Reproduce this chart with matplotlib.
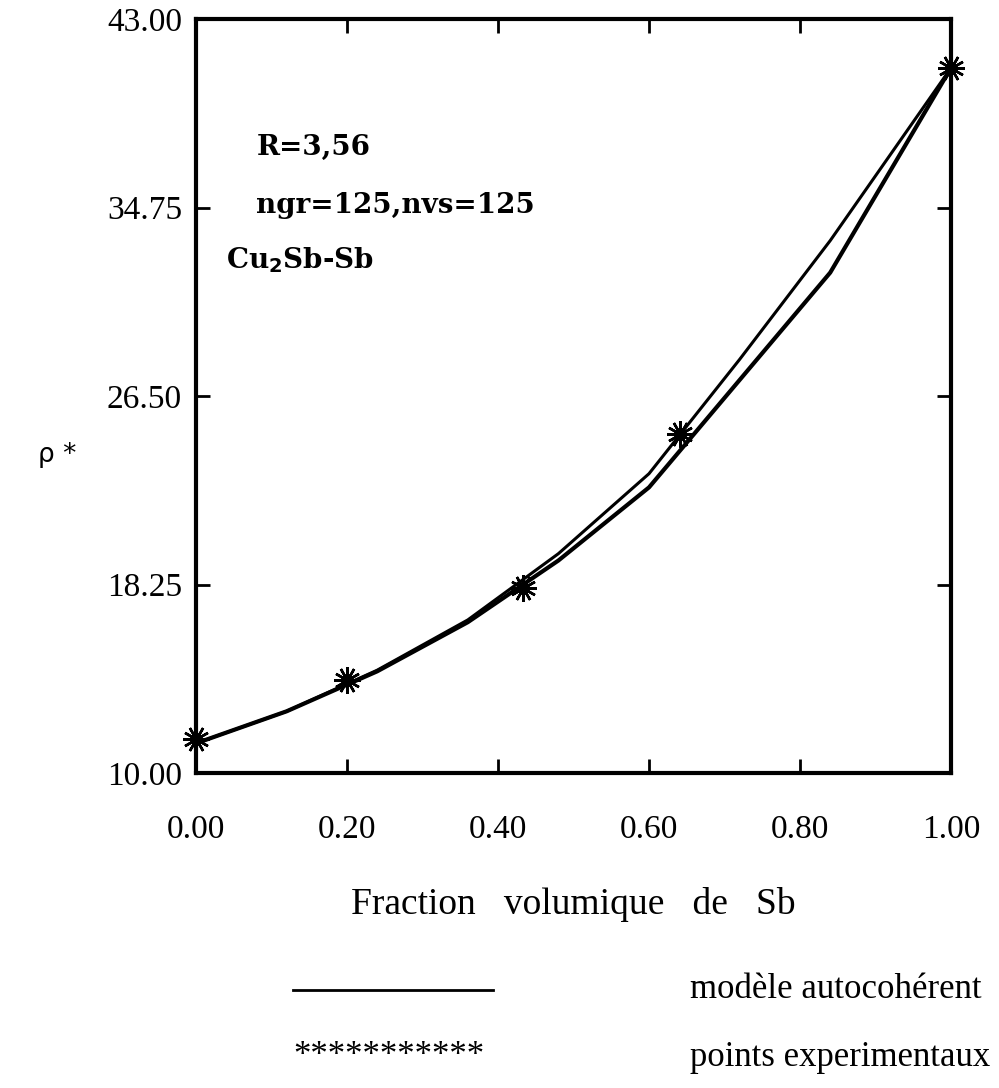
import matplotlib.pyplot as plt
import numpy as np

# fraction volumique de Sb
x_model = [0.0, 0.12, 0.24, 0.36, 0.48, 0.60, 0.72, 0.84, 1.0]
rho_model_a = [11.3, 12.7, 14.5, 16.7, 19.6, 23.1, 28.1, 33.3, 40.86]
rho_model_b = [11.3, 12.7, 14.45, 16.6, 19.3, 22.5, 27.2, 31.9, 40.86]

x_exp = [0.0, 0.2, 0.433, 0.641, 1.0]
rho_exp = [11.5, 14.07, 18.1, 24.84, 40.86]

xticks = [0.0, 0.2, 0.4, 0.6, 0.8, 1.0]
yticks = [10.0, 18.25, 26.5, 34.75, 43.0]

serif = 'Liberation Serif'

fig = plt.figure(figsize=(9.99, 10.88), dpi=100)
ax = fig.add_axes([196 / 999, 315 / 1088, 755 / 999, 754 / 1088])

ax.plot(x_model, rho_model_a, color='black', lw=2.2)
ax.plot(x_model, rho_model_b, color='black', lw=3.0)
ax.plot(x_exp, rho_exp, ls='none', marker=(12, 2, 0), ms=19, mew=1.8,
        color='black', clip_on=False)

ax.set_xlim(0, 1)
ax.set_ylim(10, 43)
ax.set_xticks(xticks)
ax.set_yticks(yticks)
ax.set_xticklabels([f'{v:.2f}' for v in xticks], fontfamily=serif, fontsize=24)
ax.set_yticklabels([f'{v:.2f}' for v in yticks], fontfamily=serif, fontsize=24)
ax.tick_params(direction='in', length=10, width=2, top=True, right=True)
ax.tick_params(axis='y', pad=10)
ax.tick_params(axis='x', pad=30)
for s in ax.spines.values():
    s.set_linewidth(3)

ax.set_xlabel('Fraction   volumique   de   Sb', fontfamily=serif, fontsize=27,
              labelpad=30)
fig.text(38 / 999, 1 - 455 / 1088, 'ρ *', fontsize=19, va='center', ha='left')

for ypos, xpos, txt in [(0.83, 0.08, 'R=3,56'),
                        (0.753, 0.08, 'ngr=125,nvs=125'),
                        (0.68, 0.04, r'Cu$_\mathbf{2}$Sb-Sb')]:
    ax.text(xpos, ypos, txt, transform=ax.transAxes, fontfamily='DejaVu Serif',
            fontweight='bold', fontsize=20, va='center')

# legend drawn below the axes
fig.add_artist(plt.Line2D([293 / 999, 493 / 999], [1 - 990 / 1088] * 2,
                          color='black', lw=2))
fig.text(690 / 999, 1 - 990 / 1088, 'modèle autocohérent', fontfamily=serif,
         fontsize=25, va='center')
fig.text(293 / 999, 1 - 1057 / 1088, '***********', fontfamily=serif,
         fontsize=25, va='center')
fig.text(690 / 999, 1 - 1057 / 1088, 'points experimentaux', fontfamily=serif,
         fontsize=25, va='center')

fig.savefig('out.png', dpi=100)
